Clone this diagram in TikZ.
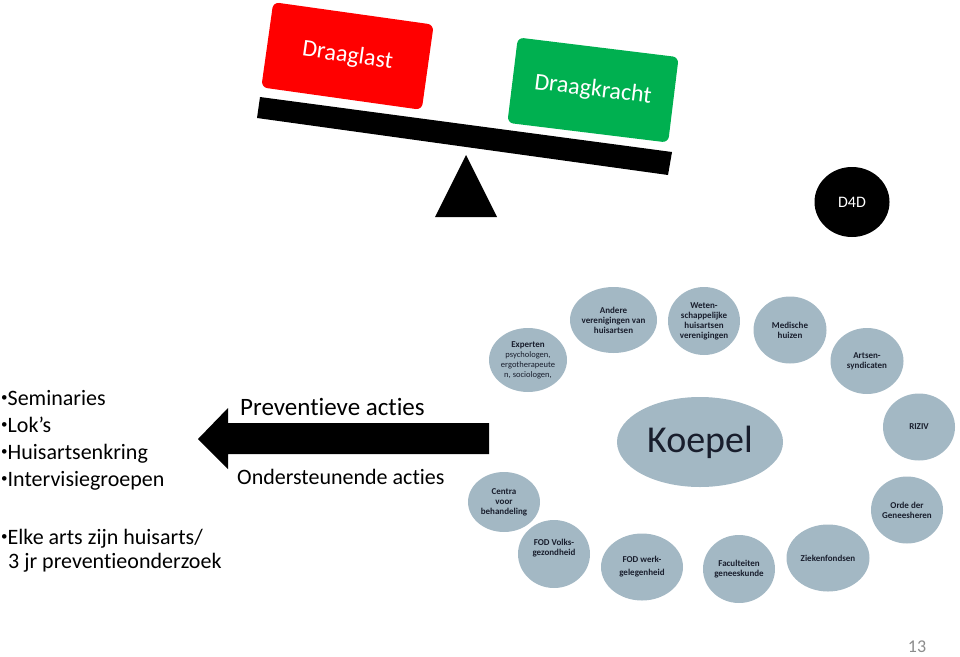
\documentclass[tikz,border=0pt]{standalone}
\usepackage{fontspec}
\setmainfont{Carlito}[Ligatures=NoCommon]
\usetikzlibrary{shapes.geometric}
\definecolor{bubfill}{RGB}{163,184,196}
\definecolor{bubtext}{RGB}{25,30,45}
\definecolor{redbox}{RGB}{255,0,0}
\definecolor{greenbox}{RGB}{0,176,80}
\definecolor{pagegrey}{RGB}{140,140,140}
\newcommand\listbullet{\raisebox{4pt}{\fontsize{13}{13}\selectfont•}}
\newcommand\nolig{\kern0pt{}}
\begin{document}
\begin{tikzpicture}[x=1pt,y=-1pt,
  bub/.style 2 args={ellipse, fill=bubfill, inner sep=-6pt, align=center,
    text=bubtext, minimum width=#1pt, minimum height=#2pt,
    font=\fontsize{9}{10}\selectfont\bfseries},
  scalebox/.style={fill=#1, rounded corners=6pt, minimum width=162pt,
    minimum height=86pt, text=white, font=\fontsize{24}{28}\selectfont},
  bigtext/.style={anchor=base west, inner sep=0pt, font=\fontsize{22}{26}\selectfont},
  headtext/.style={anchor=base west, inner sep=0pt, font=\fontsize{25}{30}\selectfont}
]
\useasboundingbox (0,0) rectangle (960,656);

% balance
\node[scalebox=redbox, rotate=-8] (draaglast) at (347.5,56) {Draaglast};
\node[scalebox=greenbox, rotate=-7] (draagkracht) at (593,90) {Draagkracht};
\fill[black] (260,97) -- (672,152) -- (668,175) -- (257,118) -- cycle;
\fill[black] (466,155) -- (497,217) -- (435,217) -- cycle;

% D4D
\node[ellipse, fill=black, minimum width=75pt, minimum height=70pt, inner sep=0pt,
  text=white, font=\fontsize{16}{18}\selectfont] (d4d) at (852,202) {D4D};

% left list
\node[bigtext] (l1) at (1,405) {\listbullet Seminaries};
\node[bigtext] (l2) at (1,432) {\listbullet Lok’s};
\node[bigtext] (l3) at (1,459) {\listbullet Huisartsenkring};
\node[bigtext] (l4) at (1,486) {\listbullet Intervisiegroepen};
\node[bigtext] (l5) at (1,544) {\listbullet Elke arts zijn huisarts/};
\node[bigtext] (l6) at (8,568) {3 jr prevent\nolig ieonderzoek};

% arrow
\fill[black] (198,439) -- (228,408) -- (228,423) -- (489,423) -- (489,454)
  -- (228,454) -- (228,469) -- cycle;
\node[headtext] (prev) at (240,415) {Prevent\nolig ieve act\nolig ies};
\node[bigtext] (onder) at (237,484) {Ondersteunende act\nolig ies};

% bubbles
\node[bub={78}{64}] (exp) at (528,360)
  {Experten\\{\mdseries\fontsize{8.5}{9.5}\selectfont psychologen,}\\
   {\mdseries\fontsize{8.5}{9.5}\selectfont ergotherapeute}\\
   {\mdseries\fontsize{8.5}{9.5}\selectfont n, sociologen,}};
\node[bub={87}{66}] (andere) at (613.5,320) {Andere\\verenigingen van\\huisartsen};
\node[bub={72}{68}] (weten) at (704,321) {Weten-\\schappelijke\\huisartsen\\verenigingen};
\node[bub={73}{67}] (medische) at (790,330) {Medische\\huizen};
\node[bub={73}{66}] (artsen) at (867,361) {Artsen-\\syndicaten};
\node[bub={72}{67}] (riziv) at (919,427) {RIZIV};
\node[bub={72}{67}] (orde) at (907,510) {Orde der\\Geneesheren};
\node[bub={83}{67}] (zieken) at (828,558) {Ziekenfondsen};
\node[bub={72}{68}] (facult) at (739,569) {Faculteiten\\geneeskunde};
\node[bub={82}{67}] (fodwerk) at (642,567) {FOD werk-\\[3pt]gelegenheid};
\node[bub={72}{68}] (fodvolks) at (554,554) {FOD Volks-\\gezondheid\\[4pt]};
\node[bub={72}{60}] (centra) at (504,502) {Centra\\voor\\behandeling};
\node[ellipse, fill=bubfill, minimum width=166pt, minimum height=90pt, inner sep=0pt,
  text=bubtext, font=\fontsize{38}{44}\selectfont] (koepel) at (700,442) {Koepel};

% page number
\node[text=pagegrey, font=\fontsize{18}{20}\selectfont, inner sep=0pt] (pg) at (917,647) {13};
\end{tikzpicture}
\end{document}
